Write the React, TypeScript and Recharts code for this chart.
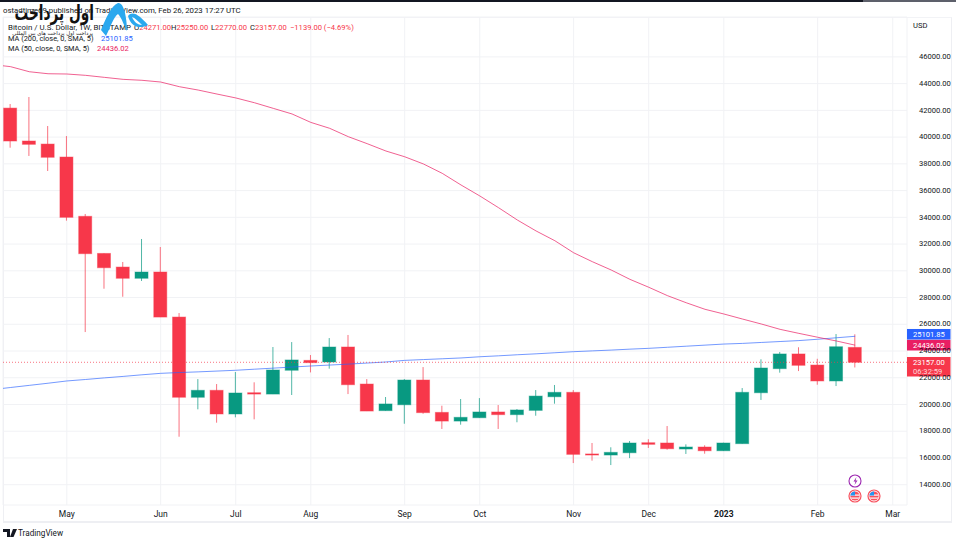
import React from 'react';
import { ComposedChart, Bar, Line, XAxis, YAxis, CartesianGrid, ReferenceLine } from 'recharts';

const RED = '#f7374a';
const GREEN = '#089981';
const FONT = 'Roboto, "Liberation Sans", sans-serif';

// first entry is the week before the visible range, only the MAs have a value there
const opens = [null, 42170, 39708, 39480, 38510, 34075, 31300, 30280, 29440, 29910, 26540, 20540, 21060, 19290, 20880, 20780, 22560, 23300, 23180, 24300, 21530, 19540, 19980, 21830, 19410, 18760, 19010, 19440, 19240, 19560, 20580, 20910, 16300, 16220, 16390, 17140, 17120, 16670, 16820, 16540, 17070, 20880, 22680, 23780, 22950, 21760, 24271];
const highs = [null, 42476, 43000, 40830, 40080, 34250, 31300, 30660, 32380, 31780, 26840, 21900, 21530, 22430, 21660, 24300, 24670, 23700, 24970, 25200, 21900, 20560, 21900, 22800, 19910, 20410, 20480, 19960, 19660, 21080, 21460, 21080, 17120, 16800, 17270, 17400, 18390, 17020, 16950, 17140, 21230, 23380, 23930, 24280, 23420, 25270, 25250];
const lows = [null, 39208, 38590, 37465, 33750, 25420, 28660, 28060, 29240, 26540, 17590, 19640, 18640, 19040, 18890, 20780, 20710, 22400, 22680, 20780, 19510, 19540, 18560, 19310, 18170, 18490, 19010, 18170, 18670, 19160, 20060, 15620, 15800, 15470, 15990, 16750, 16620, 16300, 16320, 16540, 17070, 20340, 22380, 22500, 21480, 21380, 22770];
const closes = [null, 39708, 39460, 38490, 34000, 31280, 30230, 29440, 29910, 26540, 20540, 21060, 19290, 20860, 20780, 22580, 23330, 23130, 24300, 21480, 19510, 20040, 21830, 19390, 18760, 19040, 19440, 19240, 19590, 20630, 20910, 16270, 16220, 16420, 17120, 17020, 16690, 16820, 16540, 17120, 20910, 22730, 23780, 22930, 21760, 24320, 23157];
const ma200 = [21110, 21270, 21430, 21590, 21760, 21870, 21990, 22100, 22220, 22330, 22390, 22440, 22500, 22560, 22640, 22720, 22800, 22880, 22950, 23020, 23100, 23180, 23300, 23360, 23420, 23480, 23570, 23640, 23720, 23790, 23870, 23950, 24010, 24070, 24140, 24200, 24280, 24360, 24440, 24520, 24570, 24640, 24710, 24780, 24880, 24990, 25101.85];
const ma50 = [45430, 45270, 44890, 44740, 44720, 44620, 44470, 44320, 44250, 44120, 43770, 43520, 43220, 42930, 42570, 42150, 41730, 41100, 40660, 40030, 39510, 38960, 38530, 37990, 37290, 36420, 35600, 34720, 33800, 32980, 32250, 31350, 30680, 30060, 29360, 28770, 28140, 27610, 27120, 26770, 26390, 26020, 25620, 25320, 25030, 24750, 24436.02];

const priceTicks = [14000, 16000, 18000, 20000, 22000, 24000, 26000, 28000, 30000, 32000, 34000, 36000, 38000, 40000, 42000, 44000, 46000];
const monthWeeks = [3, 8, 12, 16, 21, 25, 30, 34, 38, 43, 47];
const monthLabels = ['May', 'Jun', 'Jul', 'Aug', 'Sep', 'Oct', 'Nov', 'Dec', '2023', 'Feb', 'Mar'];

const chartData = ma50.map((m, i) => ({
  week: i - 1,
  open: opens[i],
  high: highs[i],
  low: lows[i],
  close: closes[i],
  ma200: ma200[i],
  ma50: m,
}));

const Candle = (props: any) => {
  const { x, y, width, height, payload } = props;
  if (payload.open == null || !height) return null;
  const { open, high, low, close } = payload;
  const py = (v: number) => y + ((high - v) / (high - low)) * height;
  const color = close >= open ? GREEN : RED;
  const top = py(Math.max(open, close));
  const bottom = py(Math.min(open, close));
  const cx = x + width / 2;
  return (
    <g>
      <rect x={cx - 0.5} y={y} width={1} height={height} fill={color} fillOpacity={0.7} />
      <rect x={x + 0.5} y={top} width={width - 1} height={bottom - top} fill={color} stroke={color} strokeOpacity={0.45} />
    </g>
  );
};

const MonthTick = ({ x, y, payload }: any) => (
  <text x={x} y={y + 4} textAnchor="middle" fontFamily={FONT} fontSize={8.5} fill="#131722" fontWeight={payload.value === 38 ? 700 : 400}>
    {monthLabels[monthWeeks.indexOf(payload.value)]}
  </text>
);

// price tag on the right axis, shift moves it away from a neighbouring tag
const priceTag = (text: string, fill: string, shift: number, sub?: string) => ({ viewBox }: any) => {
  const left = viewBox.x + viewBox.width;
  const cy = viewBox.y + shift;
  return (
    <g fontFamily={FONT} fontSize={7.6} fill="#fff">
      <rect x={left} y={cy - 5.3} width={43.5} height={sub ? 19.5 : 10.6} fill={fill} />
      <text x={left + 6} y={cy + 2.7}>{text}</text>
      {sub && <text x={left + 6} y={cy + 11.7} fillOpacity={0.8}>{sub}</text>}
    </g>
  );
};

const Flag = ({ x, y }: { x: number; y: number }) => (
  <g>
    <circle cx={x} cy={y} r={6} fill="#fff" stroke="#f7525f" strokeWidth={1.2} />
    <clipPath id={`flag${x}`}><circle cx={x} cy={y} r={4.6} /></clipPath>
    <g clipPath={`url(#flag${x})`}>
      <rect x={x - 5} y={y - 5} width={10} height={10} fill="#f7525f" />
      <rect x={x - 5} y={y - 1.5} width={10} height={1.2} fill="#fff" />
      <rect x={x - 5} y={y + 1.5} width={10} height={1.2} fill="#fff" />
      <rect x={x - 5} y={y - 5} width={5} height={4.5} fill="#2196f3" />
    </g>
  </g>
);

const Text = ({ x, y, color = '#131722', size = 7.6, children }: any) => (
  <span style={{ position: 'absolute', left: x, top: y, color, fontSize: size, lineHeight: '10px', whiteSpace: 'nowrap' }}>{children}</span>
);

export default function App() {
  return (
    <div style={{ position: 'absolute', left: 0, top: 0, width: 956, height: 542, background: '#fff', overflow: 'hidden', fontFamily: FONT }}>
      <div style={{ position: 'absolute', left: 0, top: 0, width: 863, height: 1.5, background: '#131722' }} />
      <div style={{ position: 'absolute', left: 863, top: 0, width: 93, height: 1.5, background: '#5d606b' }} />
      <div style={{ position: 'absolute', left: 3, top: 17, width: 947, height: 503, borderLeft: '1px solid #eeeff3', borderRight: '1px solid #eeeff3', borderTop: '1px solid #f2f3f6', borderBottom: '2px solid #eeeff3' }} />

      <div style={{ position: 'absolute', left: 0, top: 0 }}>
        <ComposedChart width={956} height={542} data={chartData} margin={{ top: 17, right: 0, bottom: 0, left: 3 }}>
          <CartesianGrid stroke="#f1f2f5" />
          <XAxis
            dataKey="week"
            type="number"
            domain={[-0.4, 47.76]}
            allowDataOverflow
            ticks={monthWeeks}
            interval={0}
            height={37}
            axisLine={false}
            tickLine={false}
            tick={<MonthTick />}
          />
          <YAxis
            orientation="right"
            width={49}
            domain={[12482, 48984]}
            ticks={priceTicks}
            interval={0}
            allowDataOverflow
            axisLine={false}
            tickLine={false}
            tickMargin={6}
            tick={{ fill: '#131722', fontSize: 7.6, fontFamily: FONT, textAnchor: 'start', dy: -0.5 }}
            tickFormatter={(v: number) => v.toFixed(2)}
          />
          <Bar dataKey={(d: any) => (d.open == null ? null : [d.low, d.high])} barSize={14} shape={<Candle />} isAnimationActive={false} />
          <Line dataKey="ma200" stroke="#2962ff" strokeOpacity={0.65} strokeWidth={1} dot={false} isAnimationActive={false} />
          <Line dataKey="ma50" stroke="#e91e63" strokeOpacity={0.7} strokeWidth={1} dot={false} isAnimationActive={false} />
          <ReferenceLine y={23157} stroke={RED} strokeOpacity={0.7} strokeDasharray="1 2" label={priceTag('23157.00', RED, 0, '06:32:59')} />
          <ReferenceLine y={25101.85} stroke="none" label={priceTag('25101.85', '#2962ff', -2)} />
          <ReferenceLine y={24436.02} stroke="none" label={priceTag('24436.02', '#e91e63', 0)} />
        </ComposedChart>
      </div>

      <Text x={3} y={6} size={7.8}>ostadtime69 published on TradingView.com, Feb 26, 2023 17:27 UTC</Text>
      <Text x={8} y={23} size={7.9}>Bitcoin / U.S. Dollar, 1W, BITSTAMP</Text>
      <Text x={134} y={23}>O<span style={{ color: RED }}>24271.00</span></Text>
      <Text x={171} y={23}>H<span style={{ color: RED }}>25250.00</span></Text>
      <Text x={211} y={23}>L<span style={{ color: RED }}>22770.00</span></Text>
      <Text x={250} y={23}>C<span style={{ color: RED }}>23157.00</span></Text>
      <Text x={290} y={23} color={RED}>−1139.00 (−4.69%)</Text>
      <Text x={8} y={34} size={7.4}>MA (200, close, 0, SMA, 5)</Text>
      <Text x={101} y={34} color="#2962ff">25101.85</Text>
      <Text x={8} y={44} size={7.4}>MA (50, close, 0, SMA, 5)</Text>
      <Text x={97} y={44} color="#e91e63">24436.02</Text>
      <Text x={913} y={21}>USD</Text>
      <Text x={18} y={528} size={8.2}>TradingView</Text>

      <svg width={956} height={542} style={{ position: 'absolute', left: 0, top: 0, pointerEvents: 'none' }}>
        {/* watermark */}
        <text transform="translate(94 20) scale(0.72 1.1)" textAnchor="start" direction="rtl" fontFamily='"DejaVu Sans"' fontWeight={700} fontSize={19} fill="#111">اول پرداخت</text>
        <text x={93} y={35} textAnchor="start" direction="rtl" fontFamily='"DejaVu Sans"' fontSize={5.4} fill="#222">پرداخت اول پرداخت های بین المللی</text>
        <path d="M101 30 C106 18 111 6 118 3 C124 2 127 18 127 31 C124 26 122 18 118 14 C114 16 110 28 106 36 Z" fill="#2ba8ee" />
        <path d="M128 16 C133 10 140 16 148 25 C141 29 131 28 128 16 Z M132 17 C134 22 138 25 142 25 C138 21 135 18 132 17 Z" fill="#2ba8ee" fillRule="evenodd" />
        {/* chart events */}
        <circle cx={855} cy={481} r={6} fill="#fff" stroke="#9c27b0" strokeWidth={1.1} />
        <path d="M856.5 477 L853.5 481.5 L855.5 481.5 L854.5 485 L857.5 480.5 L855.5 480.5 Z" fill="#9c27b0" />
        <Flag x={855} y={496} />
        <Flag x={874} y={496} />
        {/* footer logo */}
        <path d="M3 529 H10 V537 H7 V532 H3 Z M13 529 H17 L13.5 537 H10 Z" fill="#131722" />
      </svg>
    </div>
  );
}
